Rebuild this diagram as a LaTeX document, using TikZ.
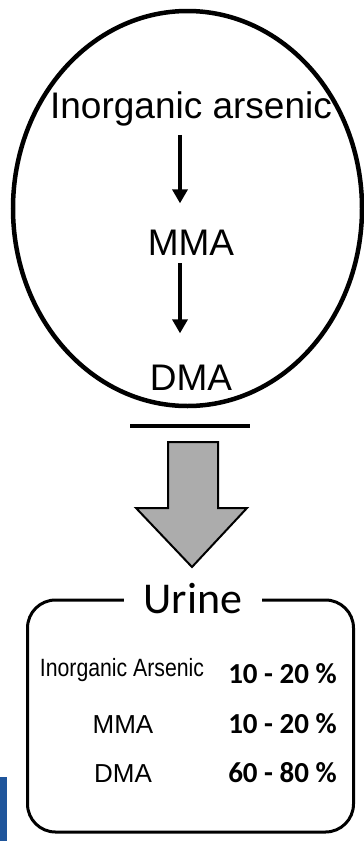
\documentclass[tikz,border=0pt]{standalone}
\usepackage{fontspec}
\setmainfont{Liberation Sans}
\newfontfamily\calibri{Carlito}
\newfontfamily\narrowsans[FakeStretch=0.85]{Liberation Sans}
\usetikzlibrary{arrows.meta,positioning,shapes.geometric}
\definecolor{arrowgray}{RGB}{172,172,172}
\definecolor{barblue}{RGB}{31,85,155}

\begin{document}
\begin{tikzpicture}[x=1pt, y=-1pt,
  t/.style={font=\fontsize{37}{40}\selectfont, inner sep=0pt, anchor=base},
  r/.style={font=\fontsize{26}{28}\selectfont, inner sep=0pt, anchor=base},
  pc/.style={font=\calibri\bfseries\fontsize{29}{32}\selectfont, inner sep=0pt, anchor=base},
  arr/.style={-{Triangle[width=15pt,length=14pt]}, line width=4pt}
]
\useasboundingbox (0,0) rectangle (364,841);
% body
\node[draw, ellipse, line width=4.5pt, minimum width=349pt, minimum height=395pt] (cell) at (187.5,208.5) {};
\node[t] (ia) at (191,118) {Inorganic arsenic};
\node[t] (mma) at (191,255) {MMA};
\node[t] (dma) at (191,390) {DMA};
\draw[arr, shorten <=9pt, shorten >=26pt] ([xshift=-11pt]ia.south) -- ([xshift=-11pt]mma.north);
\draw[arr, shorten <=8pt, shorten >=31pt] ([xshift=-11pt]mma.south) -- ([xshift=-11pt]dma.north);
\draw[line width=3.5pt] (130,426) -- (250,426);
% excretion
\draw[line width=2pt, fill=arrowgray] (168,442) -- (218,442) -- (218,508) -- (247,508)
  -- (192,567) -- (136,508) -- (168,508) -- cycle;
\node[draw, rounded corners=28pt, line width=3pt, minimum width=326pt, minimum height=232pt] (box) at (190.5,716) {};
\node[font=\calibri\fontsize{44}{48}\selectfont, fill=white, inner xsep=20pt, inner ysep=0pt, anchor=base] (urine) at (193,613) {Urine};
\node[r, font=\narrowsans\fontsize{25}{28}\selectfont] (ias) at (122,676) {Inorganic Arsenic};
\node[r] (mma2) at (123,733) {MMA};
\node[r] (dma2) at (123,782) {DMA};
\node[pc] (p1) at (282.5,683) {10 - 20 \%};
\node[pc] (p2) at (282.5,733) {10 - 20 \%};
\node[pc] (p3) at (282.5,782) {60 - 80 \%};
\fill[barblue] (0,777) rectangle (7,841);
\end{tikzpicture}
\end{document}
